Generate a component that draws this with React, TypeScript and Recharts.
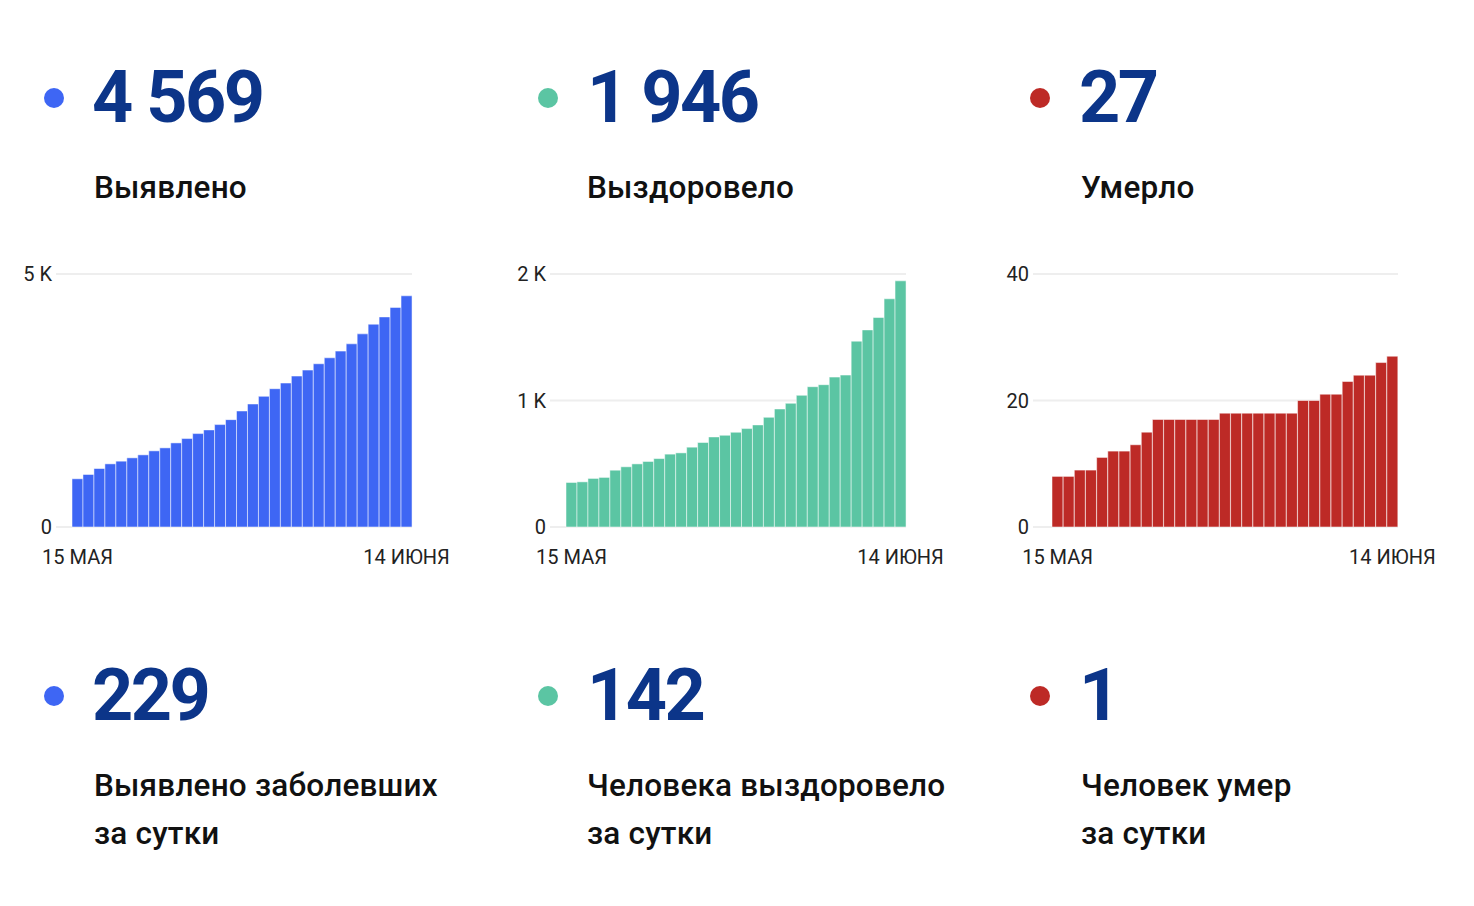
import React from "react";
import { BarChart, Bar, XAxis, YAxis, CartesianGrid } from "recharts";

// дни: 15 мая .. 14 июня
const DAYS = [
  "15.05", "16.05", "17.05", "18.05", "19.05", "20.05", "21.05", "22.05", "23.05", "24.05",
  "25.05", "26.05", "27.05", "28.05", "29.05", "30.05", "31.05", "01.06", "02.06", "03.06",
  "04.06", "05.06", "06.06", "07.06", "08.06", "09.06", "10.06", "11.06", "12.06", "13.06",
  "14.06",
];

const CONFIRMED = [
  953, 1038, 1156, 1248, 1301, 1367, 1426, 1505, 1564, 1662,
  1748, 1846, 1919, 2024, 2122, 2293, 2431, 2582, 2733, 2845,
  2983, 3101, 3226, 3344, 3476, 3620, 3817, 4008, 4152, 4340,
  4569,
];

const RECOVERED = [
  352, 357, 384, 392, 449, 476, 499, 518, 541, 576,
  586, 631, 668, 712, 725, 749, 778, 807, 867, 933,
  978, 1041, 1109, 1125, 1185, 1201, 1469, 1558, 1656, 1804,
  1946,
];

const DEATHS = [
  8, 8, 9, 9, 11, 12, 12, 13, 15, 17,
  17, 17, 17, 17, 17, 18, 18, 18, 18, 18,
  18, 18, 20, 20, 21, 21, 23, 24, 24, 26,
  27,
];

const X_TICKS = [DAYS[0], DAYS[DAYS.length - 1]];
const X_LABELS: Record<string, string> = { "15.05": "15 МАЯ", "14.06": "14 ИЮНЯ" };

const NAVY = "#0c3589";
const BLUE = "#3e66f4";
const GREEN = "#5bc5a3";
const RED = "#bd2a26";

const FONT = "Roboto, 'Noto Sans', sans-serif";

const kFormat = (v: number) => (v === 0 ? "0" : `${v / 1000} K`);

function MiniBars({ values, color, max, yTicks, fmt, left, width, padLeft }: {
  values: number[]; color: string; max: number; yTicks: number[];
  fmt: (v: number) => string; left: number; width: number; padLeft: number;
}) {
  const data = DAYS.map((d, i) => ({ day: d, value: values[i] }));
  return (
    <div style={{ position: "absolute", left, top: 250 }}>
      <BarChart
        width={width}
        height={340}
        data={data}
        barCategoryGap={0}
        margin={{ top: 24, right: 48, left: 0, bottom: 0 }}
        style={{ fontFamily: FONT }}
      >
        <CartesianGrid vertical={false} stroke="#eeeeee" strokeWidth={2} />
        <XAxis
          dataKey="day"
          ticks={X_TICKS}
          interval={0}
          axisLine={false}
          tickLine={false}
          tickSize={0}
          tickMargin={23}
          height={63}
          padding={{ left: padLeft, right: 0 }}
          tick={{ fontSize: 20, fill: "#222" }}
          tickFormatter={(d) => X_LABELS[d] || ""}
        />
        <YAxis
          domain={[0, max]}
          ticks={yTicks}
          interval={0}
          width={56}
          axisLine={false}
          tickLine={false}
          tickSize={0}
          tickMargin={4}
          tick={{ fontSize: 20, fill: "#222" }}
          tickFormatter={fmt}
        />
        <Bar
          dataKey="value"
          fill={color}
          stroke="rgba(255,255,255,0.5)"
          strokeWidth={1}
          isAnimationActive={false}
        />
      </BarChart>
    </div>
  );
}

function Stat({ x, labelX, dotX, rowTop, color, value, lines }: {
  x: number; labelX: number; dotX: number; rowTop: number; color: string; value: string; lines: string[];
}) {
  return (
    <>
      <div
        style={{
          position: "absolute", left: dotX - 10, top: rowTop + 26, width: 20, height: 20,
          borderRadius: "50%", background: color,
        }}
      />
      <div
        style={{
          position: "absolute", left: x - 3, top: rowTop, fontSize: 72, lineHeight: "72px",
          fontWeight: 700, color: NAVY, letterSpacing: -2.5, whiteSpace: "nowrap",
        }}
      >
        {value}
      </div>
      <div
        style={{
          position: "absolute", left: labelX - 1, top: rowTop + 102, fontSize: 31.5, lineHeight: "48px",
          fontWeight: 500, color: "#111", letterSpacing: 0.2, whiteSpace: "nowrap",
        }}
      >
        {lines.map((l, i) => (
          <div key={i}>{l}</div>
        ))}
      </div>
    </>
  );
}

export default function App() {
  return (
    <div
      style={{
        position: "absolute", left: 0, top: 0, width: 1474, height: 906,
        background: "#fff", fontFamily: FONT, overflow: "hidden",
      }}
    >
      <Stat x={95} labelX={95} dotX={54} rowTop={62} color={BLUE} value="4 569" lines={["Выявлено"]} />
      <Stat x={590} labelX={588} dotX={548} rowTop={62} color={GREEN} value="1 946" lines={["Выздоровело"]} />
      <Stat x={1082} labelX={1082} dotX={1040} rowTop={62} color={RED} value="27" lines={["Умерло"]} />

      <MiniBars values={CONFIRMED} color={BLUE} max={5000} yTicks={[0, 5000]} fmt={kFormat}
        left={0} width={460} padLeft={16} />
      <MiniBars values={RECOVERED} color={GREEN} max={2000} yTicks={[0, 1000, 2000]} fmt={kFormat}
        left={494} width={460} padLeft={16} />
      <MiniBars values={DEATHS} color={RED} max={40} yTicks={[0, 20, 40]} fmt={(v) => String(v)}
        left={977} width={469} padLeft={19} />

      <Stat x={95} labelX={95} dotX={54} rowTop={660} color={BLUE} value="229"
        lines={["Выявлено заболевших", "за сутки"]} />
      <Stat x={590} labelX={588} dotX={548} rowTop={660} color={GREEN} value="142"
        lines={["Человека выздоровело", "за сутки"]} />
      <Stat x={1082} labelX={1082} dotX={1040} rowTop={660} color={RED} value="1"
        lines={["Человек умер", "за сутки"]} />
    </div>
  );
}
